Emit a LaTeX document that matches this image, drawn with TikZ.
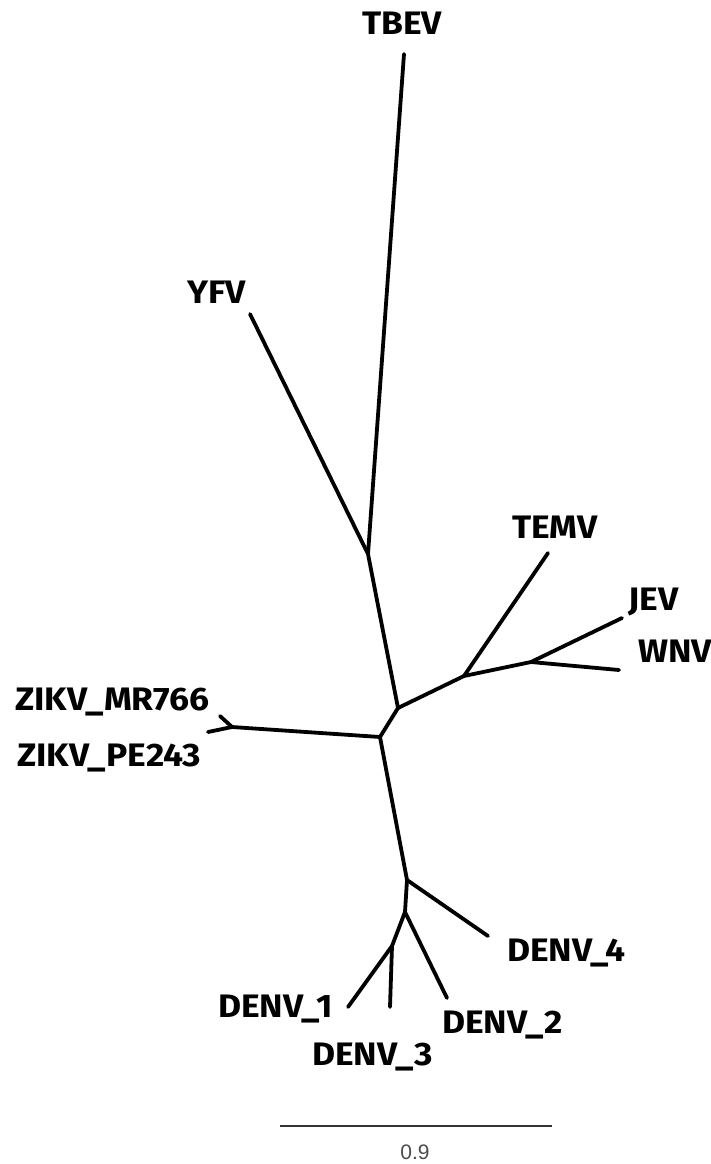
\documentclass[tikz,border=0pt]{standalone}
\usepackage{fontspec}
\setmainfont{Fira Sans}
\newfontfamily\labfont[FakeStretch=1.09]{Fira Sans}
\newfontfamily\scalefnt{Liberation Sans}
\begin{document}
\begin{tikzpicture}[x=1pt,y=-1pt,
  br/.style={line width=3.8pt, line cap=round, line join=round, black},
  lab/.style={font=\labfont\fontsize{32.5}{32.5}\selectfont\bfseries, inner sep=0pt, anchor=base west},
  sbar/.style={line width=2pt, color=black!80}]
\useasboundingbox (0,0) rectangle (710,1164);
% internal nodes
\coordinate (A) at (368,554);
\coordinate (B) at (398,708);
\coordinate (E) at (380,737);
\coordinate (C) at (464,676);
\coordinate (D) at (531,662);
\coordinate (Z) at (232,727);
\coordinate (F) at (407,880);
\coordinate (G) at (405,912);
\coordinate (H) at (392,946);
% tips
\coordinate (tTBEV) at (404,54);
\coordinate (tYFV) at (250,314);
\coordinate (tTEMV) at (548,553);
\coordinate (tJEV) at (622,618);
\coordinate (tWNV) at (619,670);
\coordinate (tMR) at (220,716);
\coordinate (tPE) at (208,732);
\coordinate (tD4) at (488,936);
\coordinate (tD2) at (447,998);
\coordinate (tD1) at (348,1007);
\coordinate (tD3) at (390,1007);
% branches
\draw[br] (A) -- (tTBEV);
\draw[br] (A) -- (tYFV);
\draw[br] (A) -- (B);
\draw[br] (B) -- (C);
\draw[br] (C) -- (tTEMV);
\draw[br] (C) -- (D);
\draw[br] (D) -- (tJEV);
\draw[br] (D) -- (tWNV);
\draw[br] (B) -- (E);
\draw[br] (E) -- (Z);
\draw[br] (Z) -- (tMR);
\draw[br] (Z) -- (tPE);
\draw[br] (E) -- (F);
\draw[br] (F) -- (tD4);
\draw[br] (F) -- (G);
\draw[br] (G) -- (tD2);
\draw[br] (G) -- (H);
\draw[br] (H) -- (tD1);
\draw[br] (H) -- (tD3);
% labels
\node[lab, anchor=base] (lTBEV) at (402,35) {TBEV};
\node[lab] (lYFV) at (187,303) {YFV};
\node[lab] (lTEMV) at (512,538) {TEMV};
\node[lab] (lJEV) at (628,610) {JEV};
\node[lab] (lWNV) at (638,662) {WNV};
\node[lab] (lMR) at (15,710) {ZIKV\_MR766};
\node[lab] (lPE) at (17,766) {ZIKV\_PE243};
\node[lab] (lD4) at (507,961) {DENV\_4};
\node[lab] (lD2) at (442,1033) {DENV\_2};
\node[lab] (lD1) at (218,1017) {DENV\_1};
\node[lab] (lD3) at (312,1065) {DENV\_3};
% scale bar
\coordinate (s1) at (280,1126);
\coordinate (s2) at (552,1126);
\draw[sbar] (s1) -- (s2);
\node[font=\scalefnt\fontsize{21}{21}\selectfont, text=black!70, inner sep=0pt] (sl) at (415,1152) {0.9};
\end{tikzpicture}
\end{document}
